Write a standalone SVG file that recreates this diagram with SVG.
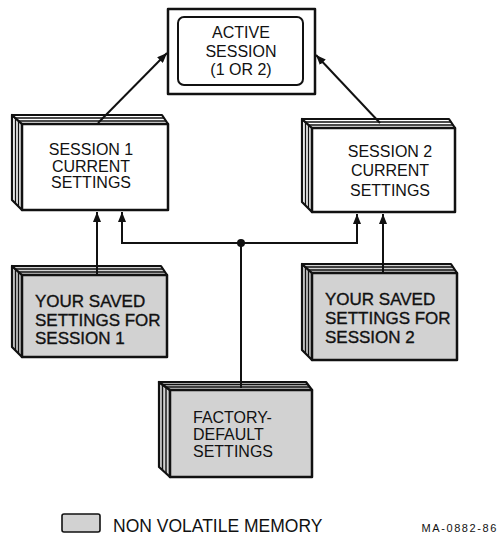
<svg xmlns="http://www.w3.org/2000/svg" width="499" height="540" viewBox="0 0 499 540">
<style>
  .txt { font-family: "Liberation Sans", Arial, Helvetica, sans-serif; fill: #111; }
  .t16 { font-size: 16px; }
  .t17 { font-size: 17px; stroke: #111; stroke-width: 0.35; }
  .mid { text-anchor: middle; }
  .face { stroke: #111; stroke-width: 2.5; stroke-linejoin: round; }
  .white { fill: #fff; }
  .gray { fill: #d2d2d2; }
  .side { stroke: #111; stroke-width: 2.2; stroke-linejoin: round; }
  .stripe { stroke: #111; stroke-width: 1.4; fill: none; }
  .conn { stroke: #111; stroke-width: 2; fill: none; }
</style>
<defs>
  <marker id="arr" viewBox="0 0 10 8" refX="10" refY="4" markerWidth="10" markerHeight="8" markerUnits="userSpaceOnUse" orient="auto">
    <path d="M0,0 L10,4 L0,8 Z" fill="#111"/>
  </marker>
</defs>
<rect width="499" height="540" fill="#fff"/>

<!-- Active session -->
<g id="active-session">
  <rect x="168" y="9" width="147" height="85" class="face white"/>
  <rect x="178" y="17" width="125" height="68" rx="6" ry="6" fill="none" stroke="#111" stroke-width="2"/>
  <text class="txt t16 mid" x="241" y="38">ACTIVE</text>
  <text class="txt t16 mid" x="241" y="57">SESSION</text>
  <text class="txt t16 mid" x="241" y="75">(1 OR 2)</text>
</g>

<!-- Session 1 current settings -->
<g id="session1-current">
  <path class="side white" d="M22,124 L12,115 L12,200 L22,210 Z"/>
  <path class="side white" d="M22,124 L12,115 L162,115 L168,124 Z"/>
  <path class="stripe" d="M15.5,118 V203 M18.5,121 V206 M15.5,118 H164 M18.5,121 H166"/>
  <rect x="22" y="124" width="146" height="86" class="face white"/>
  <text class="txt t16 mid" x="91" y="155">SESSION 1</text>
  <text class="txt t16 mid" x="91" y="171.5">CURRENT</text>
  <text class="txt t16 mid" x="91" y="188">SETTINGS</text>
</g>

<!-- Session 2 current settings -->
<g id="session2-current">
  <path class="side white" d="M312,128 L302,119 L302,202 L312,212 Z"/>
  <path class="side white" d="M312,128 L302,119 L449,119 L455,128 Z"/>
  <path class="stripe" d="M305.5,122 V205 M308.5,125 V208 M305.5,122 H451 M308.5,125 H453"/>
  <rect x="312" y="128" width="143" height="84" class="face white"/>
  <text class="txt t16 mid" x="390" y="157">SESSION 2</text>
  <text class="txt t16 mid" x="390" y="176">CURRENT</text>
  <text class="txt t16 mid" x="390" y="196">SETTINGS</text>
</g>

<!-- Saved settings session 1 -->
<g id="saved-session1">
  <path class="side gray" d="M22,275 L12,266 L12,347 L22,357 Z"/>
  <path class="side gray" d="M22,275 L12,266 L161,266 L167,275 Z"/>
  <path class="stripe" d="M15.5,269 V350 M18.5,272 V353 M15.5,269 H163 M18.5,272 H165"/>
  <rect x="22" y="275" width="145" height="82" class="face gray"/>
  <text class="txt t17" x="35" y="307">YOUR SAVED</text>
  <text class="txt t17" x="35" y="326">SETTINGS FOR</text>
  <text class="txt t17" x="35" y="344">SESSION 1</text>
</g>

<!-- Saved settings session 2 -->
<g id="saved-session2">
  <path class="side gray" d="M312,273 L302,264 L302,350 L312,360 Z"/>
  <path class="side gray" d="M312,273 L302,264 L451,264 L457,273 Z"/>
  <path class="stripe" d="M305.5,267 V353 M308.5,270 V356 M305.5,267 H453 M308.5,270 H455"/>
  <rect x="312" y="273" width="145" height="87" class="face gray"/>
  <text class="txt t17" x="325" y="305">YOUR SAVED</text>
  <text class="txt t17" x="325" y="324">SETTINGS FOR</text>
  <text class="txt t17" x="325" y="343">SESSION 2</text>
</g>

<!-- Factory default settings -->
<g id="factory-default">
  <path class="side gray" d="M170,390 L159,382 L159,467 L170,477 Z"/>
  <path class="side gray" d="M170,390 L159,382 L306,382 L312,390 Z"/>
  <path class="stripe" d="M162.5,384.5 V470 M166,387 V473 M162.5,384.5 H308 M166,387 H310"/>
  <rect x="170" y="390" width="142" height="87" class="face gray"/>
  <text class="txt t16" x="193" y="423">FACTORY-</text>
  <text class="txt t16" x="193" y="440">DEFAULT</text>
  <text class="txt t16" x="193" y="457">SETTINGS</text>
</g>

<!-- Connectors -->
<g id="connectors">
  <path class="conn" d="M98,123 L167,53" marker-end="url(#arr)"/>
  <path class="conn" d="M380,123 L316,55" marker-end="url(#arr)"/>
  <path class="conn" d="M241,243 H122 V212" marker-end="url(#arr)"/>
  <path class="conn" d="M241,243 H357 V214" marker-end="url(#arr)"/>
  <path class="conn" d="M241,243 V388"/>
  <circle cx="241" cy="243" r="4" fill="#111"/>
  <path class="conn" d="M97,274 V212" marker-end="url(#arr)"/>
  <path class="conn" d="M383,272 V214" marker-end="url(#arr)"/>
</g>

<!-- Legend -->
<g id="legend">
  <rect x="62" y="514" width="38" height="18" rx="2" class="gray" stroke="#111" stroke-width="1.6"/>
  <text class="txt" font-size="17.5" x="113" y="532">NON VOLATILE MEMORY</text>
  <text class="txt" font-size="11" letter-spacing="1.6" x="498" y="532" text-anchor="end">MA-0882-86</text>
</g>
</svg>
